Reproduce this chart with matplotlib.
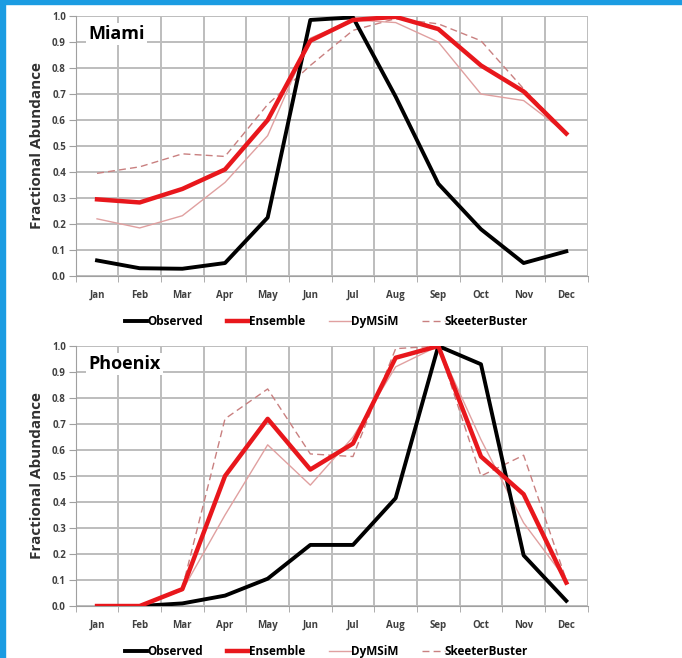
import matplotlib
matplotlib.use('Agg')
import matplotlib.pyplot as plt
from matplotlib.patches import Rectangle

plt.rcParams['font.family'] = ['Open Sans', 'DejaVu Sans']

months = ['Jan', 'Feb', 'Mar', 'Apr', 'May', 'Jun', 'Jul', 'Aug', 'Sep', 'Oct', 'Nov', 'Dec']

# Miami
miami_observed = [0.06, 0.03, 0.028, 0.05, 0.225, 0.985, 0.995, 0.69, 0.355, 0.18, 0.05, 0.095]
miami_ensemble = [0.295, 0.283, 0.335, 0.41, 0.60, 0.905, 0.985, 0.997, 0.95, 0.81, 0.71, 0.548]
miami_dymsim = [0.22, 0.185, 0.232, 0.36, 0.54, 0.915, 0.985, 0.975, 0.90, 0.70, 0.675, 0.55]
miami_skeeter = [0.395, 0.42, 0.47, 0.46, 0.66, 0.81, 0.945, 0.99, 0.97, 0.905, 0.72, 0.55]

# Phoenix
phoenix_observed = [0.0, 0.0, 0.01, 0.04, 0.105, 0.235, 0.235, 0.415, 1.0, 0.93, 0.195, 0.02]
phoenix_ensemble = [0.0, 0.0, 0.065, 0.50, 0.72, 0.525, 0.625, 0.955, 1.0, 0.575, 0.43, 0.09]
phoenix_dymsim = [0.0, 0.0, 0.06, 0.35, 0.62, 0.465, 0.65, 0.92, 1.0, 0.64, 0.32, 0.10]
phoenix_skeeter = [0.0, 0.0, 0.07, 0.72, 0.835, 0.585, 0.575, 0.99, 1.0, 0.50, 0.58, 0.10]

fig = plt.figure(figsize=(6.82, 6.58), dpi=100)

# blue frame strips
fig.patches.append(Rectangle((0, 0), 5 / 682, 1, transform=fig.transFigure, color='#1b9ce2', zorder=0))
fig.patches.append(Rectangle((0, 1 - 4 / 658), 1, 4 / 658, transform=fig.transFigure, color='#1b9ce2', zorder=0))

grid_color = '#bdbdbd'


def draw_panel(ax, name, obs, ens, dym, skb):
    x = range(len(months))
    ax.plot(x, skb, color='#c98080', lw=1.0, ls=(0, (5, 3)), label='SkeeterBuster', zorder=3)
    ax.plot(x, dym, color='#e0a0a0', lw=1.0, label='DyMSiM', zorder=3)
    ax.plot(x, obs, color='black', lw=2.8, label='Observed', zorder=4)
    ax.plot(x, ens, color='#e8171c', lw=3.2, label='Ensemble', zorder=5)

    ax.set_xlim(-0.5, len(months) - 0.5)
    ax.set_ylim(0, 1.0)
    ax.set_yticks([i / 10 for i in range(11)])
    ax.set_yticklabels([f'{i / 10:.1f}' for i in range(11)], fontsize=7, fontweight='bold', color='#404040')
    ax.set_xticks(list(x))
    ax.set_xticklabels(months, fontsize=7, fontweight='bold', color='#404040')
    ax.set_xticks([i - 0.5 for i in range(len(months) + 1)], minor=True)
    ax.tick_params(axis='x', which='major', length=0, pad=10)
    ax.tick_params(axis='x', which='minor', length=4, color='#a0a0a0', direction='out')
    ax.tick_params(axis='y', length=5, color='#a0a0a0', direction='out', pad=2)

    ax.grid(True, axis='y', color=grid_color, lw=1.4, zorder=1)
    ax.grid(True, axis='x', which='minor', color=grid_color, lw=1.4, zorder=1)
    ax.grid(False, axis='x', which='major')
    for s in ['top', 'right']:
        ax.spines[s].set_visible(False)
    ax.spines['left'].set_color('#a0a0a0')
    ax.spines['bottom'].set_color('#a0a0a0')
    ax.set_axisbelow(True)

    ax.text(0.025, 0.93, name, transform=ax.transAxes, fontsize=13, fontweight='bold',
            ha='left', va='center', zorder=6,
            bbox=dict(facecolor='white', edgecolor='none', pad=1.5))
    ax.set_ylabel('Fractional Abundance', fontsize=11, fontweight='bold', color='#303030', labelpad=6)

    handles, labels = ax.get_legend_handles_labels()
    order = [2, 3, 1, 0]
    ax.legend([handles[i] for i in order], [labels[i] for i in order],
              loc='upper center', bbox_to_anchor=(0.49, -0.11), ncol=4, frameon=False,
              handlelength=1.9, handletextpad=0.0, columnspacing=2.0,
              prop={'size': 8.5, 'weight': 'bold'})


ax1 = fig.add_axes([0.111, 0.5805, 0.7506, 0.3951])
draw_panel(ax1, 'Miami', miami_observed, miami_ensemble, miami_dymsim, miami_skeeter)

ax2 = fig.add_axes([0.111, 0.0790, 0.7506, 0.3951])
draw_panel(ax2, 'Phoenix', phoenix_observed, phoenix_ensemble, phoenix_dymsim, phoenix_skeeter)

fig.savefig('out.png', dpi=100)
